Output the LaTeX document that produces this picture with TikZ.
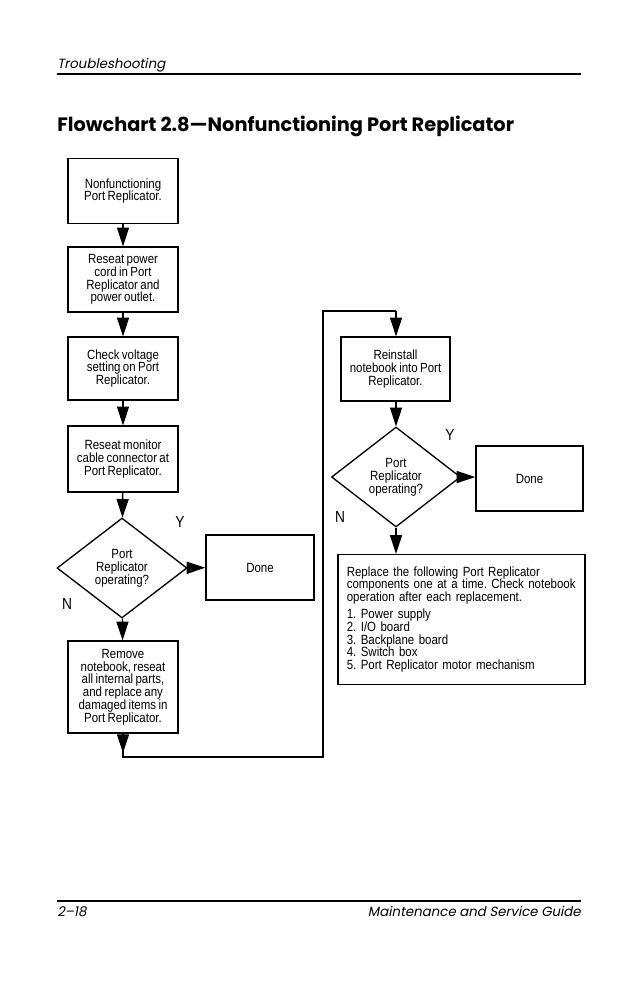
\documentclass[tikz,border=0pt]{standalone}
\usepackage{fontspec}
\setmainfont{Liberation Sans}
\newfontfamily\narrowfont[FakeStretch=0.86,WordSpace=0.75]{Liberation Sans}
\newfontfamily\futura{Poppins}
\newfontfamily\futuraI[FakeSlant=0.2]{Poppins}
\usetikzlibrary{shapes.geometric,arrows.meta}
\frenchspacing
\begin{document}
\begin{tikzpicture}[x=0.75pt,y=-0.75pt,
  box/.style={draw,line width=1pt,align=center,inner sep=1pt,
    font=\narrowfont\frenchspacing\fontsize{10}{9.6}\selectfont,minimum width=82.5pt},
  dec/.style={draw,diamond,line width=1pt,align=center,inner sep=0pt,
    font=\narrowfont\fontsize{10}{9.6}\selectfont,minimum width=97.5pt,minimum height=75pt},
  yn/.style={font=\narrowfont\fontsize{12}{12}\selectfont,inner sep=0pt},
  arr/.style={line width=1pt,-{Triangle[length=14pt,width=9pt]}},
  ln/.style={line width=1pt}]
\useasboundingbox (0,0) rectangle (638,986);
\fill[white] (0,0) rectangle (638,986);
% header
\node[anchor=base west,inner sep=0pt,font=\futuraI\fontsize{10}{12}\selectfont] (hdr) at (57,68) {Troubleshooting};
\draw[line width=0.8pt] (57,74) -- (581,74);
\node[anchor=base west,inner sep=0pt,font=\futura\bfseries\fontsize{14.5}{18}\selectfont] (title) at (57,131) {Flowchart 2.8—Nonfunctioning Port Replicator};
% left column
\node[box,minimum height=48.75pt] (b1) at (123,191) {Nonfunctioning\\Port Replicator.};
\node[box,minimum height=48.75pt] (b2) at (123,279.5) {Reseat power\\cord in Port\\Replicator and\\power outlet.};
\node[box,minimum height=47.25pt] (b3) at (123,368.5) {Check voltage\\setting on Port\\Replicator.};
\node[box,minimum height=49.5pt] (b4) at (123,459) {Reseat monitor\\cable connector at\\Port Replicator.};
\node[dec] (d1) at (122,568) {Port\\Replicator\\operating?};
\node[box,minimum width=81pt,minimum height=48.75pt] (done1) at (260,567.5) {Done};
\node[box,minimum height=69pt] (b5) at (123,687) {Remove\\notebook, reseat\\all internal parts,\\and replace any\\damaged items in\\Port Replicator.};
\node[yn] (y1) at (180,522) {Y};
\node[yn] (n1) at (67,604) {N};
% right column
\node[box,minimum width=81.75pt,minimum height=48pt] (b6) at (395.5,369) {Reinstall\\notebook into Port\\Replicator.};
\node[dec,minimum width=96.75pt] (d2) at (396,477) {Port\\Replicator\\operating?};
\node[box,minimum width=80.25pt,minimum height=48.75pt] (done2) at (529.5,478.5) {Done};
\node[yn] (y2) at (450,435) {Y};
\node[yn] (n2) at (340,517) {N};
\node[box,minimum width=185.25pt,minimum height=97.5pt,text width=172pt,align=left,inner xsep=6.5pt,inner ysep=4pt,
  font=\narrowfont\fontsize{10}{9.6}\selectfont] (b7) at (461.5,619.5)
 {Replace the following Port Replicator\\components one at a time. Check notebook\\operation after each replacement.\\[3pt]
  1. Power supply\\2. I/O board\\3. Backplane board\\4. Switch box\\5. Port Replicator motor mechanism};
% connectors
\draw[arr] (b1) -- (b2);
\draw[arr] (b2) -- (b3);
\draw[arr] (b3) -- (b4);
\draw[arr] (b4) -- (d1);
\draw[arr] (d1) -- (done1);
\draw[arr] (d1) -- (b5);
\coordinate (t5) at (123,753);
\coordinate (c1) at (123,757);
\coordinate (c2) at (323,757);
\coordinate (c3) at (323,311);
\coordinate (c4) at (396,311);
\draw[arr] (b5) -- (t5);
\draw[ln] (b5.south) -- (c1) -- (c2) -- (c3) -- (c4);
\draw[arr] (c4) -- (c4 |- b6.north);
\draw[arr] (b6.south -| d2.north) -- (d2.north);
\draw[arr] (d2) -- (d2.east -| done2.west);
\draw[arr] (d2.south) -- (d2.south |- b7.north);
% footer
\draw[line width=0.8pt] (57,901) -- (581,901);
\node[anchor=base west,inner sep=0pt,font=\futuraI\fontsize{10}{12}\selectfont] (pg) at (57,916) {2–18};
\node[anchor=base east,inner sep=0pt,font=\futuraI\fontsize{10}{12}\selectfont] (guide) at (581,916) {Maintenance and Service Guide};
\end{tikzpicture}
\end{document}
